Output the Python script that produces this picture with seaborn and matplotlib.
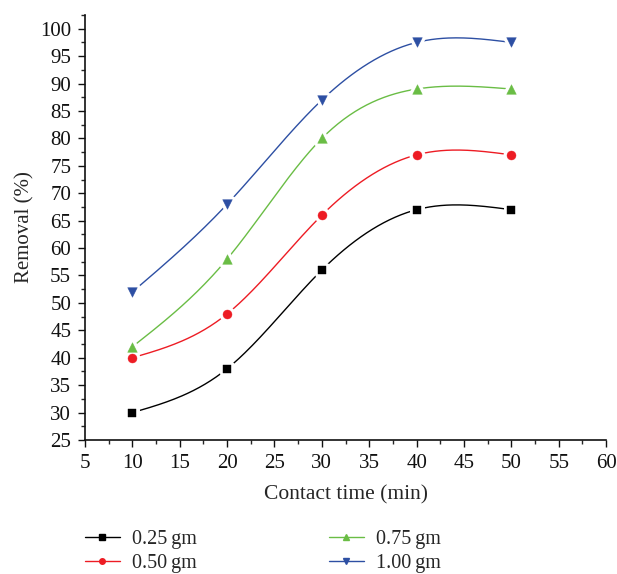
"""Removal vs contact time figure."""

import matplotlib

matplotlib.use("Agg")
import matplotlib.pyplot as plt
import numpy as np
import pandas as pd
import seaborn as sns
from matplotlib.lines import Line2D
from matplotlib.ticker import MultipleLocator

# Data
contact_time = [10, 20, 30, 40, 50]
removal_025 = [30, 38, 56, 67, 67]
removal_050 = [40, 48, 66, 77, 77]
removal_075 = [42, 58, 80, 89, 89]
removal_100 = [52, 68, 87, 97.5, 97.5]
dose_labels = ["0.25\u2009gm", "0.50\u2009gm", "0.75\u2009gm", "1.00\u2009gm"]

COLORS = ["#000000", "#ED1C24", "#6ABD45", "#2D4FA3"]
MARKERS = ["s", "o", "^", "v"]
SIZES = [30, 42, 48, 48]


def natural_spline(x, y, n=200):
    """Smooth connecting curve (Origin-style spline line) through the points."""
    x = np.asarray(x, float)
    y = np.asarray(y, float)
    k = len(x)
    h = np.diff(x)
    a = np.zeros((k, k))
    b = np.zeros(k)
    a[0, 0] = a[-1, -1] = 1
    for i in range(1, k - 1):
        a[i, i - 1] = h[i - 1]
        a[i, i] = 2 * (h[i - 1] + h[i])
        a[i, i + 1] = h[i]
        b[i] = 6 * ((y[i + 1] - y[i]) / h[i] - (y[i] - y[i - 1]) / h[i - 1])
    m = np.linalg.solve(a, b)
    xs = np.linspace(x[0], x[-1], n)
    idx = np.clip(np.searchsorted(x, xs) - 1, 0, k - 2)
    x0, x1 = x[idx], x[idx + 1]
    hh = x1 - x0
    t0, t1 = x1 - xs, xs - x0
    ys = (
        m[idx] * t0**3 / (6 * hh)
        + m[idx + 1] * t1**3 / (6 * hh)
        + (y[idx] / hh - m[idx] * hh / 6) * t0
        + (y[idx + 1] / hh - m[idx + 1] * hh / 6) * t1
    )
    return xs, ys


sns.set_theme(style="ticks")
plt.rcParams["font.family"] = ["Liberation Serif", "DejaVu Serif"]

fig = plt.figure(figsize=(6.17, 5.74), dpi=100)
ax = fig.add_axes([0.1378, 0.2334, 0.8445, 0.7405])

series = [removal_025, removal_050, removal_075, removal_100]
for vals, color, marker, size in zip(series, COLORS, MARKERS, SIZES):
    xs, ys = natural_spline(contact_time, vals)
    sns.lineplot(x=xs, y=ys, color=color, linewidth=1.0, ax=ax, zorder=2)
    pts = pd.DataFrame({"t": contact_time, "r": vals})
    # white halo gives the line gap around each marker
    sns.scatterplot(
        data=pts, x="t", y="r", marker=marker, color="white", s=size,
        edgecolor="white", linewidth=5, ax=ax, zorder=3,
    )
    sns.scatterplot(
        data=pts, x="t", y="r", marker=marker, color=color, s=size,
        edgecolor=color, linewidth=0.3, ax=ax, zorder=4,
    )

ax.set_xlim(5, 60)
ax.set_ylim(25, 102.5)
ax.xaxis.set_major_locator(MultipleLocator(5))
ax.xaxis.set_minor_locator(MultipleLocator(2.5))
ax.yaxis.set_major_locator(MultipleLocator(5))
ax.yaxis.set_minor_locator(MultipleLocator(2.5))
ax.set_yticks(np.arange(25, 101, 5))
ax.tick_params(which="major", direction="out", length=5, width=1, labelsize=15,
               colors="#111111", pad=5)
ax.tick_params(which="minor", direction="out", length=3, width=1)
sns.despine(ax=ax)
for sp in ("left", "bottom"):
    ax.spines[sp].set_linewidth(1.2)
    ax.spines[sp].set_color("#111111")

ax.set_xlabel("Contact time (min)", fontsize=15.5, labelpad=9)
ax.set_ylabel("Removal (%)", fontsize=15, labelpad=4)

handles = [
    Line2D([], [], color=c, marker=m, markersize=4, linewidth=1)
    for c, m in zip(COLORS, MARKERS)
]
fig.legend(
    handles,
    dose_labels,
    ncol=2,
    loc="lower left",
    bbox_to_anchor=(0.108, -0.03),
    frameon=False,
    fontsize=14.5,
    handlelength=1.75,
    handletextpad=0.6,
    columnspacing=6.55,
    labelspacing=0.25,
)

fig.savefig("out.png", dpi=100)
plt.close()
